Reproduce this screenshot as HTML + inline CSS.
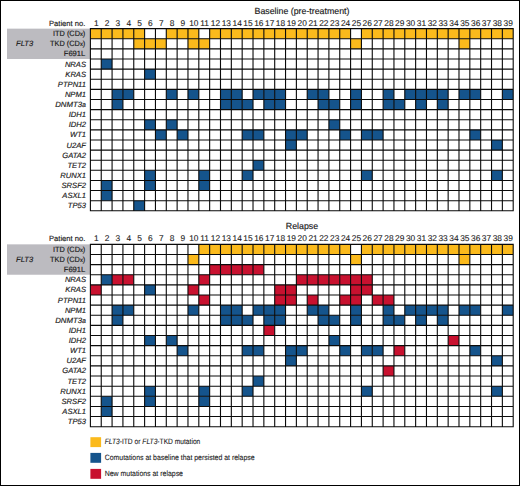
<!DOCTYPE html>
<html><head><meta charset="utf-8"><title>FLT3 mutations baseline vs relapse</title>
<style>html,body{margin:0;padding:0;background:#fff}body{width:520px;height:486px;overflow:hidden}svg{display:block}text{text-rendering:geometricPrecision;font-family:"Liberation Sans",sans-serif;fill:#1a1a1a;stroke:#1a1a1a;stroke-width:0.16px}.i{font-style:italic}.lg{stroke-width:0.1px}.n{stroke-width:0.1px}</style></head><body>
<svg width="520" height="486" viewBox="0 0 520 486">
<rect x="0" y="0" width="520" height="486" fill="#fff"/>
<rect x="0.5" y="0.5" width="519" height="485" fill="none" stroke="#000" stroke-width="1"/>
<rect x="7" y="28.65" width="83.4" height="30.36" fill="#bcbbc0"/>
<rect x="90.4" y="28.65" width="10.84" height="10.12" fill="#fbba1c"/>
<rect x="101.24" y="28.65" width="10.84" height="10.12" fill="#fbba1c"/>
<rect x="112.08" y="28.65" width="10.84" height="10.12" fill="#fbba1c"/>
<rect x="122.92" y="28.65" width="10.84" height="10.12" fill="#fbba1c"/>
<rect x="133.76" y="28.65" width="10.84" height="10.12" fill="#fbba1c"/>
<rect x="166.29" y="28.65" width="10.84" height="10.12" fill="#fbba1c"/>
<rect x="177.13" y="28.65" width="10.84" height="10.12" fill="#fbba1c"/>
<rect x="187.97" y="28.65" width="10.84" height="10.12" fill="#fbba1c"/>
<rect x="209.65" y="28.65" width="10.84" height="10.12" fill="#fbba1c"/>
<rect x="220.49" y="28.65" width="10.84" height="10.12" fill="#fbba1c"/>
<rect x="231.33" y="28.65" width="10.84" height="10.12" fill="#fbba1c"/>
<rect x="242.17" y="28.65" width="10.84" height="10.12" fill="#fbba1c"/>
<rect x="253.02" y="28.65" width="10.84" height="10.12" fill="#fbba1c"/>
<rect x="263.86" y="28.65" width="10.84" height="10.12" fill="#fbba1c"/>
<rect x="274.7" y="28.65" width="10.84" height="10.12" fill="#fbba1c"/>
<rect x="285.54" y="28.65" width="10.84" height="10.12" fill="#fbba1c"/>
<rect x="296.38" y="28.65" width="10.84" height="10.12" fill="#fbba1c"/>
<rect x="307.22" y="28.65" width="10.84" height="10.12" fill="#fbba1c"/>
<rect x="318.06" y="28.65" width="10.84" height="10.12" fill="#fbba1c"/>
<rect x="328.9" y="28.65" width="10.84" height="10.12" fill="#fbba1c"/>
<rect x="339.74" y="28.65" width="10.84" height="10.12" fill="#fbba1c"/>
<rect x="361.43" y="28.65" width="10.84" height="10.12" fill="#fbba1c"/>
<rect x="372.27" y="28.65" width="10.84" height="10.12" fill="#fbba1c"/>
<rect x="383.11" y="28.65" width="10.84" height="10.12" fill="#fbba1c"/>
<rect x="393.95" y="28.65" width="10.84" height="10.12" fill="#fbba1c"/>
<rect x="404.79" y="28.65" width="10.84" height="10.12" fill="#fbba1c"/>
<rect x="415.63" y="28.65" width="10.84" height="10.12" fill="#fbba1c"/>
<rect x="426.47" y="28.65" width="10.84" height="10.12" fill="#fbba1c"/>
<rect x="437.31" y="28.65" width="10.84" height="10.12" fill="#fbba1c"/>
<rect x="448.15" y="28.65" width="10.84" height="10.12" fill="#fbba1c"/>
<rect x="458.99" y="28.65" width="10.84" height="10.12" fill="#fbba1c"/>
<rect x="469.84" y="28.65" width="10.84" height="10.12" fill="#fbba1c"/>
<rect x="480.68" y="28.65" width="10.84" height="10.12" fill="#fbba1c"/>
<rect x="491.52" y="28.65" width="10.84" height="10.12" fill="#fbba1c"/>
<rect x="502.36" y="28.65" width="10.84" height="10.12" fill="#fbba1c"/>
<rect x="133.76" y="38.77" width="10.84" height="10.12" fill="#fbba1c"/>
<rect x="144.61" y="38.77" width="10.84" height="10.12" fill="#fbba1c"/>
<rect x="155.45" y="38.77" width="10.84" height="10.12" fill="#fbba1c"/>
<rect x="187.97" y="38.77" width="10.84" height="10.12" fill="#fbba1c"/>
<rect x="198.81" y="38.77" width="10.84" height="10.12" fill="#fbba1c"/>
<rect x="350.58" y="38.77" width="10.84" height="10.12" fill="#fbba1c"/>
<rect x="458.99" y="38.77" width="10.84" height="10.12" fill="#fbba1c"/>
<rect x="101.24" y="59.01" width="10.84" height="10.12" fill="#15548c"/>
<rect x="144.61" y="69.13" width="10.84" height="10.12" fill="#15548c"/>
<rect x="112.08" y="89.37" width="10.84" height="10.12" fill="#15548c"/>
<rect x="122.92" y="89.37" width="10.84" height="10.12" fill="#15548c"/>
<rect x="166.29" y="89.37" width="10.84" height="10.12" fill="#15548c"/>
<rect x="187.97" y="89.37" width="10.84" height="10.12" fill="#15548c"/>
<rect x="220.49" y="89.37" width="10.84" height="10.12" fill="#15548c"/>
<rect x="231.33" y="89.37" width="10.84" height="10.12" fill="#15548c"/>
<rect x="253.02" y="89.37" width="10.84" height="10.12" fill="#15548c"/>
<rect x="263.86" y="89.37" width="10.84" height="10.12" fill="#15548c"/>
<rect x="274.7" y="89.37" width="10.84" height="10.12" fill="#15548c"/>
<rect x="307.22" y="89.37" width="10.84" height="10.12" fill="#15548c"/>
<rect x="318.06" y="89.37" width="10.84" height="10.12" fill="#15548c"/>
<rect x="350.58" y="89.37" width="10.84" height="10.12" fill="#15548c"/>
<rect x="383.11" y="89.37" width="10.84" height="10.12" fill="#15548c"/>
<rect x="404.79" y="89.37" width="10.84" height="10.12" fill="#15548c"/>
<rect x="415.63" y="89.37" width="10.84" height="10.12" fill="#15548c"/>
<rect x="426.47" y="89.37" width="10.84" height="10.12" fill="#15548c"/>
<rect x="437.31" y="89.37" width="10.84" height="10.12" fill="#15548c"/>
<rect x="458.99" y="89.37" width="10.84" height="10.12" fill="#15548c"/>
<rect x="469.84" y="89.37" width="10.84" height="10.12" fill="#15548c"/>
<rect x="502.36" y="89.37" width="10.84" height="10.12" fill="#15548c"/>
<rect x="112.08" y="99.49" width="10.84" height="10.12" fill="#15548c"/>
<rect x="220.49" y="99.49" width="10.84" height="10.12" fill="#15548c"/>
<rect x="231.33" y="99.49" width="10.84" height="10.12" fill="#15548c"/>
<rect x="242.17" y="99.49" width="10.84" height="10.12" fill="#15548c"/>
<rect x="263.86" y="99.49" width="10.84" height="10.12" fill="#15548c"/>
<rect x="274.7" y="99.49" width="10.84" height="10.12" fill="#15548c"/>
<rect x="318.06" y="99.49" width="10.84" height="10.12" fill="#15548c"/>
<rect x="328.9" y="99.49" width="10.84" height="10.12" fill="#15548c"/>
<rect x="350.58" y="99.49" width="10.84" height="10.12" fill="#15548c"/>
<rect x="383.11" y="99.49" width="10.84" height="10.12" fill="#15548c"/>
<rect x="393.95" y="99.49" width="10.84" height="10.12" fill="#15548c"/>
<rect x="415.63" y="99.49" width="10.84" height="10.12" fill="#15548c"/>
<rect x="437.31" y="99.49" width="10.84" height="10.12" fill="#15548c"/>
<rect x="144.61" y="119.72" width="10.84" height="10.12" fill="#15548c"/>
<rect x="166.29" y="119.72" width="10.84" height="10.12" fill="#15548c"/>
<rect x="328.9" y="119.72" width="10.84" height="10.12" fill="#15548c"/>
<rect x="155.45" y="129.84" width="10.84" height="10.12" fill="#15548c"/>
<rect x="177.13" y="129.84" width="10.84" height="10.12" fill="#15548c"/>
<rect x="242.17" y="129.84" width="10.84" height="10.12" fill="#15548c"/>
<rect x="253.02" y="129.84" width="10.84" height="10.12" fill="#15548c"/>
<rect x="285.54" y="129.84" width="10.84" height="10.12" fill="#15548c"/>
<rect x="296.38" y="129.84" width="10.84" height="10.12" fill="#15548c"/>
<rect x="339.74" y="129.84" width="10.84" height="10.12" fill="#15548c"/>
<rect x="361.43" y="129.84" width="10.84" height="10.12" fill="#15548c"/>
<rect x="372.27" y="129.84" width="10.84" height="10.12" fill="#15548c"/>
<rect x="469.84" y="129.84" width="10.84" height="10.12" fill="#15548c"/>
<rect x="285.54" y="139.96" width="10.84" height="10.12" fill="#15548c"/>
<rect x="491.52" y="139.96" width="10.84" height="10.12" fill="#15548c"/>
<rect x="253.02" y="160.2" width="10.84" height="10.12" fill="#15548c"/>
<rect x="144.61" y="170.32" width="10.84" height="10.12" fill="#15548c"/>
<rect x="198.81" y="170.32" width="10.84" height="10.12" fill="#15548c"/>
<rect x="242.17" y="170.32" width="10.84" height="10.12" fill="#15548c"/>
<rect x="361.43" y="170.32" width="10.84" height="10.12" fill="#15548c"/>
<rect x="491.52" y="170.32" width="10.84" height="10.12" fill="#15548c"/>
<rect x="101.24" y="180.44" width="10.84" height="10.12" fill="#15548c"/>
<rect x="144.61" y="180.44" width="10.84" height="10.12" fill="#15548c"/>
<rect x="198.81" y="180.44" width="10.84" height="10.12" fill="#15548c"/>
<rect x="101.24" y="190.56" width="10.84" height="10.12" fill="#15548c"/>
<rect x="133.76" y="200.68" width="10.84" height="10.12" fill="#15548c"/>
<path d="M90.4 28.1V211.35M101.24 28.1V211.35M112.08 28.1V211.35M122.92 28.1V211.35M133.76 28.1V211.35M144.61 28.1V211.35M155.45 28.1V211.35M166.29 28.1V211.35M177.13 28.1V211.35M187.97 28.1V211.35M198.81 28.1V211.35M209.65 28.1V211.35M220.49 28.1V211.35M231.33 28.1V211.35M242.17 28.1V211.35M253.02 28.1V211.35M263.86 28.1V211.35M274.7 28.1V211.35M285.54 28.1V211.35M296.38 28.1V211.35M307.22 28.1V211.35M318.06 28.1V211.35M328.9 28.1V211.35M339.74 28.1V211.35M350.58 28.1V211.35M361.43 28.1V211.35M372.27 28.1V211.35M383.11 28.1V211.35M393.95 28.1V211.35M404.79 28.1V211.35M415.63 28.1V211.35M426.47 28.1V211.35M437.31 28.1V211.35M448.15 28.1V211.35M458.99 28.1V211.35M469.84 28.1V211.35M480.68 28.1V211.35M491.52 28.1V211.35M502.36 28.1V211.35M513.2 28.1V211.35M89.85 28.65H513.75M89.85 38.77H513.75M89.85 48.89H513.75M89.85 59.01H513.75M89.85 69.13H513.75M89.85 79.25H513.75M89.85 89.37H513.75M89.85 99.49H513.75M89.85 109.61H513.75M89.85 119.72H513.75M89.85 129.84H513.75M89.85 139.96H513.75M89.85 150.08H513.75M89.85 160.2H513.75M89.85 170.32H513.75M89.85 180.44H513.75M89.85 190.56H513.75M89.85 200.68H513.75M89.85 210.8H513.75" stroke="#0a0a0a" stroke-width="1.1" fill="none"/>
<text x="302" y="13.6" font-size="8.8" text-anchor="middle">Baseline (pre-treatment)</text>
<text x="85.3" y="25.5" font-size="7.6" text-anchor="end">Patient no.</text>
<text x="96.22" y="25.5" class="n" font-size="8.4" text-anchor="middle">1</text>
<text x="107.06" y="25.5" class="n" font-size="8.4" text-anchor="middle">2</text>
<text x="117.9" y="25.5" class="n" font-size="8.4" text-anchor="middle">3</text>
<text x="128.74" y="25.5" class="n" font-size="8.4" text-anchor="middle">4</text>
<text x="139.58" y="25.5" class="n" font-size="8.4" text-anchor="middle">5</text>
<text x="150.43" y="25.5" class="n" font-size="8.4" text-anchor="middle">6</text>
<text x="161.27" y="25.5" class="n" font-size="8.4" text-anchor="middle">7</text>
<text x="172.11" y="25.5" class="n" font-size="8.4" text-anchor="middle">8</text>
<text x="182.95" y="25.5" class="n" font-size="8.4" text-anchor="middle">9</text>
<text x="193.79" y="25.5" class="n" font-size="8.4" text-anchor="middle">10</text>
<text x="204.63" y="25.5" class="n" font-size="8.4" text-anchor="middle">11</text>
<text x="215.47" y="25.5" class="n" font-size="8.4" text-anchor="middle">12</text>
<text x="226.31" y="25.5" class="n" font-size="8.4" text-anchor="middle">13</text>
<text x="237.15" y="25.5" class="n" font-size="8.4" text-anchor="middle">14</text>
<text x="247.99" y="25.5" class="n" font-size="8.4" text-anchor="middle">15</text>
<text x="258.84" y="25.5" class="n" font-size="8.4" text-anchor="middle">16</text>
<text x="269.68" y="25.5" class="n" font-size="8.4" text-anchor="middle">17</text>
<text x="280.52" y="25.5" class="n" font-size="8.4" text-anchor="middle">18</text>
<text x="291.36" y="25.5" class="n" font-size="8.4" text-anchor="middle">19</text>
<text x="302.2" y="25.5" class="n" font-size="8.4" text-anchor="middle">20</text>
<text x="313.04" y="25.5" class="n" font-size="8.4" text-anchor="middle">21</text>
<text x="323.88" y="25.5" class="n" font-size="8.4" text-anchor="middle">22</text>
<text x="334.72" y="25.5" class="n" font-size="8.4" text-anchor="middle">23</text>
<text x="345.56" y="25.5" class="n" font-size="8.4" text-anchor="middle">24</text>
<text x="356.41" y="25.5" class="n" font-size="8.4" text-anchor="middle">25</text>
<text x="367.25" y="25.5" class="n" font-size="8.4" text-anchor="middle">26</text>
<text x="378.09" y="25.5" class="n" font-size="8.4" text-anchor="middle">27</text>
<text x="388.93" y="25.5" class="n" font-size="8.4" text-anchor="middle">28</text>
<text x="399.77" y="25.5" class="n" font-size="8.4" text-anchor="middle">29</text>
<text x="410.61" y="25.5" class="n" font-size="8.4" text-anchor="middle">30</text>
<text x="421.45" y="25.5" class="n" font-size="8.4" text-anchor="middle">31</text>
<text x="432.29" y="25.5" class="n" font-size="8.4" text-anchor="middle">32</text>
<text x="443.13" y="25.5" class="n" font-size="8.4" text-anchor="middle">33</text>
<text x="453.97" y="25.5" class="n" font-size="8.4" text-anchor="middle">34</text>
<text x="464.82" y="25.5" class="n" font-size="8.4" text-anchor="middle">35</text>
<text x="475.66" y="25.5" class="n" font-size="8.4" text-anchor="middle">36</text>
<text x="486.5" y="25.5" class="n" font-size="8.4" text-anchor="middle">37</text>
<text x="497.34" y="25.5" class="n" font-size="8.4" text-anchor="middle">38</text>
<text x="508.18" y="25.5" class="n" font-size="8.4" text-anchor="middle">39</text>
<text x="85.3" y="35.81" font-size="7.6" text-anchor="end" textLength="32.3" lengthAdjust="spacingAndGlyphs">ITD (CD<tspan font-size="6.0">x</tspan>)</text>
<text x="85.3" y="45.93" font-size="7.6" text-anchor="end" textLength="35.2" lengthAdjust="spacingAndGlyphs">TKD (CD<tspan font-size="6.0">x</tspan>)</text>
<text x="85.3" y="56.05" font-size="7.6" text-anchor="end">F691L</text>
<text class="i" x="86" y="66.57" font-size="7.6" text-anchor="end">NRAS</text>
<text class="i" x="86" y="76.69" font-size="7.6" text-anchor="end">KRAS</text>
<text class="i" x="86" y="86.81" font-size="7.6" text-anchor="end">PTPN11</text>
<text class="i" x="86" y="96.93" font-size="7.6" text-anchor="end">NPM1</text>
<text class="i" x="86" y="107.05" font-size="7.6" text-anchor="end" textLength="30.8" lengthAdjust="spacingAndGlyphs">DNMT3<tspan font-size="6.8">a</tspan></text>
<text class="i" x="86" y="117.17" font-size="7.6" text-anchor="end">IDH1</text>
<text class="i" x="86" y="127.28" font-size="7.6" text-anchor="end">IDH2</text>
<text class="i" x="86" y="137.4" font-size="7.6" text-anchor="end">WT1</text>
<text class="i" x="86" y="147.52" font-size="7.6" text-anchor="end">U2AF</text>
<text class="i" x="86" y="157.64" font-size="7.6" text-anchor="end">GATA2</text>
<text class="i" x="86" y="167.76" font-size="7.6" text-anchor="end">TET2</text>
<text class="i" x="86" y="177.88" font-size="7.6" text-anchor="end">RUNX1</text>
<text class="i" x="86" y="188" font-size="7.6" text-anchor="end">SRSF2</text>
<text class="i" x="86" y="198.12" font-size="7.6" text-anchor="end">ASXL1</text>
<text class="i" x="86" y="208.24" font-size="7.6" text-anchor="end">TP53</text>
<text class="i" x="16" y="45.93" font-size="7.6">FLT3</text>
<rect x="7" y="244.35" width="83.4" height="30.39" fill="#bcbbc0"/>
<rect x="198.81" y="244.35" width="10.84" height="10.13" fill="#fbba1c"/>
<rect x="209.65" y="244.35" width="10.84" height="10.13" fill="#fbba1c"/>
<rect x="220.49" y="244.35" width="10.84" height="10.13" fill="#fbba1c"/>
<rect x="231.33" y="244.35" width="10.84" height="10.13" fill="#fbba1c"/>
<rect x="242.17" y="244.35" width="10.84" height="10.13" fill="#fbba1c"/>
<rect x="253.02" y="244.35" width="10.84" height="10.13" fill="#fbba1c"/>
<rect x="263.86" y="244.35" width="10.84" height="10.13" fill="#fbba1c"/>
<rect x="274.7" y="244.35" width="10.84" height="10.13" fill="#fbba1c"/>
<rect x="285.54" y="244.35" width="10.84" height="10.13" fill="#fbba1c"/>
<rect x="296.38" y="244.35" width="10.84" height="10.13" fill="#fbba1c"/>
<rect x="307.22" y="244.35" width="10.84" height="10.13" fill="#fbba1c"/>
<rect x="318.06" y="244.35" width="10.84" height="10.13" fill="#fbba1c"/>
<rect x="328.9" y="244.35" width="10.84" height="10.13" fill="#fbba1c"/>
<rect x="339.74" y="244.35" width="10.84" height="10.13" fill="#fbba1c"/>
<rect x="361.43" y="244.35" width="10.84" height="10.13" fill="#fbba1c"/>
<rect x="372.27" y="244.35" width="10.84" height="10.13" fill="#fbba1c"/>
<rect x="383.11" y="244.35" width="10.84" height="10.13" fill="#fbba1c"/>
<rect x="393.95" y="244.35" width="10.84" height="10.13" fill="#fbba1c"/>
<rect x="404.79" y="244.35" width="10.84" height="10.13" fill="#fbba1c"/>
<rect x="415.63" y="244.35" width="10.84" height="10.13" fill="#fbba1c"/>
<rect x="426.47" y="244.35" width="10.84" height="10.13" fill="#fbba1c"/>
<rect x="437.31" y="244.35" width="10.84" height="10.13" fill="#fbba1c"/>
<rect x="448.15" y="244.35" width="10.84" height="10.13" fill="#fbba1c"/>
<rect x="458.99" y="244.35" width="10.84" height="10.13" fill="#fbba1c"/>
<rect x="469.84" y="244.35" width="10.84" height="10.13" fill="#fbba1c"/>
<rect x="480.68" y="244.35" width="10.84" height="10.13" fill="#fbba1c"/>
<rect x="491.52" y="244.35" width="10.84" height="10.13" fill="#fbba1c"/>
<rect x="502.36" y="244.35" width="10.84" height="10.13" fill="#fbba1c"/>
<rect x="187.97" y="254.48" width="10.84" height="10.13" fill="#fbba1c"/>
<rect x="350.58" y="254.48" width="10.84" height="10.13" fill="#fbba1c"/>
<rect x="458.99" y="254.48" width="10.84" height="10.13" fill="#fbba1c"/>
<rect x="209.65" y="264.61" width="10.84" height="10.13" fill="#c8112f"/>
<rect x="220.49" y="264.61" width="10.84" height="10.13" fill="#c8112f"/>
<rect x="231.33" y="264.61" width="10.84" height="10.13" fill="#c8112f"/>
<rect x="242.17" y="264.61" width="10.84" height="10.13" fill="#c8112f"/>
<rect x="253.02" y="264.61" width="10.84" height="10.13" fill="#c8112f"/>
<rect x="101.24" y="274.74" width="10.84" height="10.13" fill="#15548c"/>
<rect x="112.08" y="274.74" width="10.84" height="10.13" fill="#c8112f"/>
<rect x="122.92" y="274.74" width="10.84" height="10.13" fill="#c8112f"/>
<rect x="198.81" y="274.74" width="10.84" height="10.13" fill="#c8112f"/>
<rect x="296.38" y="274.74" width="10.84" height="10.13" fill="#c8112f"/>
<rect x="307.22" y="274.74" width="10.84" height="10.13" fill="#c8112f"/>
<rect x="318.06" y="274.74" width="10.84" height="10.13" fill="#c8112f"/>
<rect x="328.9" y="274.74" width="10.84" height="10.13" fill="#c8112f"/>
<rect x="339.74" y="274.74" width="10.84" height="10.13" fill="#c8112f"/>
<rect x="350.58" y="274.74" width="10.84" height="10.13" fill="#c8112f"/>
<rect x="361.43" y="274.74" width="10.84" height="10.13" fill="#c8112f"/>
<rect x="144.61" y="284.87" width="10.84" height="10.13" fill="#15548c"/>
<rect x="90.4" y="284.87" width="10.84" height="10.13" fill="#c8112f"/>
<rect x="187.97" y="284.87" width="10.84" height="10.13" fill="#c8112f"/>
<rect x="274.7" y="284.87" width="10.84" height="10.13" fill="#c8112f"/>
<rect x="285.54" y="284.87" width="10.84" height="10.13" fill="#c8112f"/>
<rect x="350.58" y="284.87" width="10.84" height="10.13" fill="#c8112f"/>
<rect x="361.43" y="284.87" width="10.84" height="10.13" fill="#c8112f"/>
<rect x="198.81" y="295" width="10.84" height="10.13" fill="#c8112f"/>
<rect x="274.7" y="295" width="10.84" height="10.13" fill="#c8112f"/>
<rect x="285.54" y="295" width="10.84" height="10.13" fill="#c8112f"/>
<rect x="307.22" y="295" width="10.84" height="10.13" fill="#c8112f"/>
<rect x="339.74" y="295" width="10.84" height="10.13" fill="#c8112f"/>
<rect x="350.58" y="295" width="10.84" height="10.13" fill="#c8112f"/>
<rect x="372.27" y="295" width="10.84" height="10.13" fill="#c8112f"/>
<rect x="383.11" y="295" width="10.84" height="10.13" fill="#c8112f"/>
<rect x="112.08" y="305.13" width="10.84" height="10.13" fill="#15548c"/>
<rect x="122.92" y="305.13" width="10.84" height="10.13" fill="#15548c"/>
<rect x="187.97" y="305.13" width="10.84" height="10.13" fill="#15548c"/>
<rect x="220.49" y="305.13" width="10.84" height="10.13" fill="#15548c"/>
<rect x="231.33" y="305.13" width="10.84" height="10.13" fill="#15548c"/>
<rect x="253.02" y="305.13" width="10.84" height="10.13" fill="#15548c"/>
<rect x="263.86" y="305.13" width="10.84" height="10.13" fill="#15548c"/>
<rect x="274.7" y="305.13" width="10.84" height="10.13" fill="#15548c"/>
<rect x="307.22" y="305.13" width="10.84" height="10.13" fill="#15548c"/>
<rect x="318.06" y="305.13" width="10.84" height="10.13" fill="#15548c"/>
<rect x="350.58" y="305.13" width="10.84" height="10.13" fill="#15548c"/>
<rect x="383.11" y="305.13" width="10.84" height="10.13" fill="#15548c"/>
<rect x="404.79" y="305.13" width="10.84" height="10.13" fill="#15548c"/>
<rect x="415.63" y="305.13" width="10.84" height="10.13" fill="#15548c"/>
<rect x="426.47" y="305.13" width="10.84" height="10.13" fill="#15548c"/>
<rect x="437.31" y="305.13" width="10.84" height="10.13" fill="#15548c"/>
<rect x="458.99" y="305.13" width="10.84" height="10.13" fill="#15548c"/>
<rect x="469.84" y="305.13" width="10.84" height="10.13" fill="#15548c"/>
<rect x="502.36" y="305.13" width="10.84" height="10.13" fill="#15548c"/>
<rect x="112.08" y="315.26" width="10.84" height="10.13" fill="#15548c"/>
<rect x="220.49" y="315.26" width="10.84" height="10.13" fill="#15548c"/>
<rect x="231.33" y="315.26" width="10.84" height="10.13" fill="#15548c"/>
<rect x="242.17" y="315.26" width="10.84" height="10.13" fill="#15548c"/>
<rect x="263.86" y="315.26" width="10.84" height="10.13" fill="#15548c"/>
<rect x="274.7" y="315.26" width="10.84" height="10.13" fill="#15548c"/>
<rect x="318.06" y="315.26" width="10.84" height="10.13" fill="#15548c"/>
<rect x="328.9" y="315.26" width="10.84" height="10.13" fill="#15548c"/>
<rect x="350.58" y="315.26" width="10.84" height="10.13" fill="#15548c"/>
<rect x="383.11" y="315.26" width="10.84" height="10.13" fill="#15548c"/>
<rect x="393.95" y="315.26" width="10.84" height="10.13" fill="#15548c"/>
<rect x="415.63" y="315.26" width="10.84" height="10.13" fill="#15548c"/>
<rect x="437.31" y="315.26" width="10.84" height="10.13" fill="#15548c"/>
<rect x="263.86" y="325.39" width="10.84" height="10.13" fill="#c8112f"/>
<rect x="144.61" y="335.52" width="10.84" height="10.13" fill="#15548c"/>
<rect x="166.29" y="335.52" width="10.84" height="10.13" fill="#15548c"/>
<rect x="328.9" y="335.52" width="10.84" height="10.13" fill="#15548c"/>
<rect x="448.15" y="335.52" width="10.84" height="10.13" fill="#c8112f"/>
<rect x="177.13" y="345.66" width="10.84" height="10.13" fill="#15548c"/>
<rect x="242.17" y="345.66" width="10.84" height="10.13" fill="#15548c"/>
<rect x="253.02" y="345.66" width="10.84" height="10.13" fill="#15548c"/>
<rect x="285.54" y="345.66" width="10.84" height="10.13" fill="#15548c"/>
<rect x="296.38" y="345.66" width="10.84" height="10.13" fill="#15548c"/>
<rect x="339.74" y="345.66" width="10.84" height="10.13" fill="#15548c"/>
<rect x="361.43" y="345.66" width="10.84" height="10.13" fill="#15548c"/>
<rect x="372.27" y="345.66" width="10.84" height="10.13" fill="#15548c"/>
<rect x="469.84" y="345.66" width="10.84" height="10.13" fill="#15548c"/>
<rect x="393.95" y="345.66" width="10.84" height="10.13" fill="#c8112f"/>
<rect x="285.54" y="355.79" width="10.84" height="10.13" fill="#15548c"/>
<rect x="491.52" y="355.79" width="10.84" height="10.13" fill="#15548c"/>
<rect x="383.11" y="365.92" width="10.84" height="10.13" fill="#c8112f"/>
<rect x="253.02" y="376.05" width="10.84" height="10.13" fill="#15548c"/>
<rect x="144.61" y="386.18" width="10.84" height="10.13" fill="#15548c"/>
<rect x="198.81" y="386.18" width="10.84" height="10.13" fill="#15548c"/>
<rect x="242.17" y="386.18" width="10.84" height="10.13" fill="#15548c"/>
<rect x="361.43" y="386.18" width="10.84" height="10.13" fill="#15548c"/>
<rect x="491.52" y="386.18" width="10.84" height="10.13" fill="#15548c"/>
<rect x="101.24" y="396.31" width="10.84" height="10.13" fill="#15548c"/>
<rect x="144.61" y="396.31" width="10.84" height="10.13" fill="#15548c"/>
<rect x="198.81" y="396.31" width="10.84" height="10.13" fill="#15548c"/>
<rect x="101.24" y="406.44" width="10.84" height="10.13" fill="#15548c"/>
<path d="M90.4 243.8V427.25M101.24 243.8V427.25M112.08 243.8V427.25M122.92 243.8V427.25M133.76 243.8V427.25M144.61 243.8V427.25M155.45 243.8V427.25M166.29 243.8V427.25M177.13 243.8V427.25M187.97 243.8V427.25M198.81 243.8V427.25M209.65 243.8V427.25M220.49 243.8V427.25M231.33 243.8V427.25M242.17 243.8V427.25M253.02 243.8V427.25M263.86 243.8V427.25M274.7 243.8V427.25M285.54 243.8V427.25M296.38 243.8V427.25M307.22 243.8V427.25M318.06 243.8V427.25M328.9 243.8V427.25M339.74 243.8V427.25M350.58 243.8V427.25M361.43 243.8V427.25M372.27 243.8V427.25M383.11 243.8V427.25M393.95 243.8V427.25M404.79 243.8V427.25M415.63 243.8V427.25M426.47 243.8V427.25M437.31 243.8V427.25M448.15 243.8V427.25M458.99 243.8V427.25M469.84 243.8V427.25M480.68 243.8V427.25M491.52 243.8V427.25M502.36 243.8V427.25M513.2 243.8V427.25M89.85 244.35H513.75M89.85 254.48H513.75M89.85 264.61H513.75M89.85 274.74H513.75M89.85 284.87H513.75M89.85 295H513.75M89.85 305.13H513.75M89.85 315.26H513.75M89.85 325.39H513.75M89.85 335.52H513.75M89.85 345.66H513.75M89.85 355.79H513.75M89.85 365.92H513.75M89.85 376.05H513.75M89.85 386.18H513.75M89.85 396.31H513.75M89.85 406.44H513.75M89.85 416.57H513.75M89.85 426.7H513.75" stroke="#0a0a0a" stroke-width="1.1" fill="none"/>
<text x="302" y="229.3" font-size="8.8" text-anchor="middle">Relapse</text>
<text x="85.3" y="240.9" font-size="7.6" text-anchor="end">Patient no.</text>
<text x="96.22" y="240.9" class="n" font-size="8.4" text-anchor="middle">1</text>
<text x="107.06" y="240.9" class="n" font-size="8.4" text-anchor="middle">2</text>
<text x="117.9" y="240.9" class="n" font-size="8.4" text-anchor="middle">3</text>
<text x="128.74" y="240.9" class="n" font-size="8.4" text-anchor="middle">4</text>
<text x="139.58" y="240.9" class="n" font-size="8.4" text-anchor="middle">5</text>
<text x="150.43" y="240.9" class="n" font-size="8.4" text-anchor="middle">6</text>
<text x="161.27" y="240.9" class="n" font-size="8.4" text-anchor="middle">7</text>
<text x="172.11" y="240.9" class="n" font-size="8.4" text-anchor="middle">8</text>
<text x="182.95" y="240.9" class="n" font-size="8.4" text-anchor="middle">9</text>
<text x="193.79" y="240.9" class="n" font-size="8.4" text-anchor="middle">10</text>
<text x="204.63" y="240.9" class="n" font-size="8.4" text-anchor="middle">11</text>
<text x="215.47" y="240.9" class="n" font-size="8.4" text-anchor="middle">12</text>
<text x="226.31" y="240.9" class="n" font-size="8.4" text-anchor="middle">13</text>
<text x="237.15" y="240.9" class="n" font-size="8.4" text-anchor="middle">14</text>
<text x="247.99" y="240.9" class="n" font-size="8.4" text-anchor="middle">15</text>
<text x="258.84" y="240.9" class="n" font-size="8.4" text-anchor="middle">16</text>
<text x="269.68" y="240.9" class="n" font-size="8.4" text-anchor="middle">17</text>
<text x="280.52" y="240.9" class="n" font-size="8.4" text-anchor="middle">18</text>
<text x="291.36" y="240.9" class="n" font-size="8.4" text-anchor="middle">19</text>
<text x="302.2" y="240.9" class="n" font-size="8.4" text-anchor="middle">20</text>
<text x="313.04" y="240.9" class="n" font-size="8.4" text-anchor="middle">21</text>
<text x="323.88" y="240.9" class="n" font-size="8.4" text-anchor="middle">22</text>
<text x="334.72" y="240.9" class="n" font-size="8.4" text-anchor="middle">23</text>
<text x="345.56" y="240.9" class="n" font-size="8.4" text-anchor="middle">24</text>
<text x="356.41" y="240.9" class="n" font-size="8.4" text-anchor="middle">25</text>
<text x="367.25" y="240.9" class="n" font-size="8.4" text-anchor="middle">26</text>
<text x="378.09" y="240.9" class="n" font-size="8.4" text-anchor="middle">27</text>
<text x="388.93" y="240.9" class="n" font-size="8.4" text-anchor="middle">28</text>
<text x="399.77" y="240.9" class="n" font-size="8.4" text-anchor="middle">29</text>
<text x="410.61" y="240.9" class="n" font-size="8.4" text-anchor="middle">30</text>
<text x="421.45" y="240.9" class="n" font-size="8.4" text-anchor="middle">31</text>
<text x="432.29" y="240.9" class="n" font-size="8.4" text-anchor="middle">32</text>
<text x="443.13" y="240.9" class="n" font-size="8.4" text-anchor="middle">33</text>
<text x="453.97" y="240.9" class="n" font-size="8.4" text-anchor="middle">34</text>
<text x="464.82" y="240.9" class="n" font-size="8.4" text-anchor="middle">35</text>
<text x="475.66" y="240.9" class="n" font-size="8.4" text-anchor="middle">36</text>
<text x="486.5" y="240.9" class="n" font-size="8.4" text-anchor="middle">37</text>
<text x="497.34" y="240.9" class="n" font-size="8.4" text-anchor="middle">38</text>
<text x="508.18" y="240.9" class="n" font-size="8.4" text-anchor="middle">39</text>
<text x="85.3" y="251.52" font-size="7.6" text-anchor="end" textLength="32.3" lengthAdjust="spacingAndGlyphs">ITD (CD<tspan font-size="6.0">x</tspan>)</text>
<text x="85.3" y="261.65" font-size="7.6" text-anchor="end" textLength="35.2" lengthAdjust="spacingAndGlyphs">TKD (CD<tspan font-size="6.0">x</tspan>)</text>
<text x="85.3" y="271.78" font-size="7.6" text-anchor="end">F691L</text>
<text class="i" x="86" y="282.31" font-size="7.6" text-anchor="end">NRAS</text>
<text class="i" x="86" y="292.44" font-size="7.6" text-anchor="end">KRAS</text>
<text class="i" x="86" y="302.57" font-size="7.6" text-anchor="end">PTPN11</text>
<text class="i" x="86" y="312.7" font-size="7.6" text-anchor="end">NPM1</text>
<text class="i" x="86" y="322.83" font-size="7.6" text-anchor="end" textLength="30.8" lengthAdjust="spacingAndGlyphs">DNMT3<tspan font-size="6.8">a</tspan></text>
<text class="i" x="86" y="332.96" font-size="7.6" text-anchor="end">IDH1</text>
<text class="i" x="86" y="343.09" font-size="7.6" text-anchor="end">IDH2</text>
<text class="i" x="86" y="353.22" font-size="7.6" text-anchor="end">WT1</text>
<text class="i" x="86" y="363.35" font-size="7.6" text-anchor="end">U2AF</text>
<text class="i" x="86" y="373.48" font-size="7.6" text-anchor="end">GATA2</text>
<text class="i" x="86" y="383.61" font-size="7.6" text-anchor="end">TET2</text>
<text class="i" x="86" y="393.74" font-size="7.6" text-anchor="end">RUNX1</text>
<text class="i" x="86" y="403.87" font-size="7.6" text-anchor="end">SRSF2</text>
<text class="i" x="86" y="414" font-size="7.6" text-anchor="end">ASXL1</text>
<text class="i" x="86" y="424.13" font-size="7.6" text-anchor="end">TP53</text>
<text class="i" x="16" y="261.65" font-size="7.6">FLT3</text>
<rect x="90.4" y="437.2" width="10.7" height="9.9" fill="#fbba1c"/>
<text class="lg" x="104.7" y="444.45" font-size="7.7" textLength="95.6" lengthAdjust="spacingAndGlyphs"><tspan class="i">FLT3</tspan>-ITD or <tspan class="i">FLT3</tspan>-TKD mutation</text>
<rect x="90.4" y="452.9" width="10.7" height="9.9" fill="#15548c"/>
<text class="lg" x="104.7" y="460.15" font-size="7.7" textLength="149.9" lengthAdjust="spacingAndGlyphs">Comutations at baseline that persisted at relapse</text>
<rect x="90.4" y="468.9" width="10.7" height="9.9" fill="#c8112f"/>
<text class="lg" x="104.7" y="476.15" font-size="7.7" textLength="78.3" lengthAdjust="spacingAndGlyphs">New mutations at relapse</text>
</svg></body></html>
